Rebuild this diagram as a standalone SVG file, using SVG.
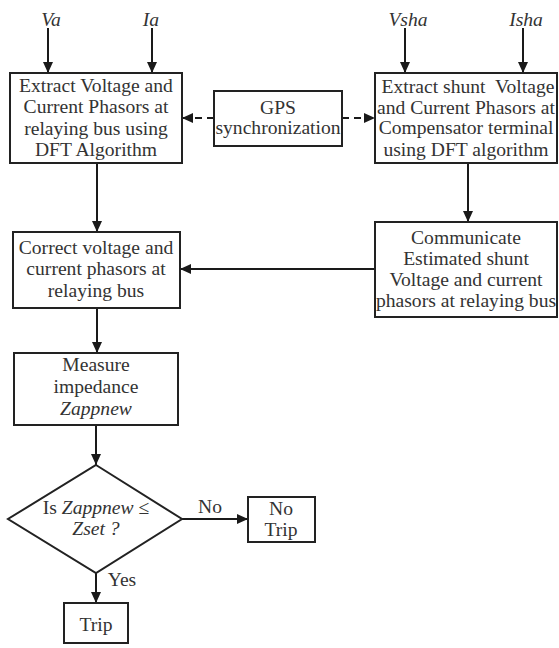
<svg xmlns="http://www.w3.org/2000/svg" width="559" height="648" viewBox="0 0 559 648">
<defs>
<marker id="ah" markerUnits="userSpaceOnUse" markerWidth="12" markerHeight="12" viewBox="0 0 12 12" refX="11" refY="6" orient="auto">
<path d="M0,1 L11,6 L0,11 Z" fill="#1a1a1a"/>
</marker>
<style>
.box{fill:#fff;stroke:#222;stroke-width:2}
.t{font-family:"Liberation Serif","Times New Roman",serif;font-size:19.6px;fill:#333;text-anchor:middle;white-space:pre}
.i{font-style:italic}
.c{stroke:#1a1a1a;stroke-width:2;fill:none;marker-end:url(#ah)}
.d{stroke-dasharray:7,5}
</style>
</defs>
<rect width="559" height="648" fill="#fff"/>
<g id="connectors">
<line class="c" x1="48" y1="28" x2="48" y2="73"/>
<line class="c" x1="152" y1="28" x2="152" y2="73"/>
<line class="c" x1="405" y1="28" x2="405" y2="73"/>
<line class="c" x1="523" y1="28" x2="523" y2="73"/>
<line class="c d" x1="214" y1="118" x2="182" y2="118"/>
<line class="c d" x1="342" y1="118" x2="375" y2="118"/>
<line class="c" x1="97" y1="163" x2="97" y2="232"/>
<line class="c" x1="468" y1="163" x2="468" y2="222"/>
<line class="c" x1="375" y1="269" x2="180" y2="269"/>
<line class="c" x1="97" y1="308" x2="97" y2="353"/>
<line class="c" x1="96" y1="425" x2="96" y2="465"/>
<line class="c" x1="182" y1="519" x2="248" y2="519"/>
<line class="c" x1="96" y1="573" x2="96" y2="603"/>
<text class="t" x="210" y="513">No</text>
<text class="t" x="122" y="586">Yes</text>
</g>
<g id="inputs">
<text class="t i" x="51" y="26">Va</text>
<text class="t i" x="151" y="26">Ia</text>
<text class="t i" x="408" y="26">Vsha</text>
<text class="t i" x="526" y="26">Isha</text>
</g>
<g id="extract">
<rect class="box" x="10" y="73" width="172" height="90"/>
<text class="t" x="96" y="92">Extract Voltage and</text>
<text class="t" x="96" y="113">Current Phasors at</text>
<text class="t" x="96" y="135">relaying bus using</text>
<text class="t" x="96" y="156">DFT Algorithm</text>
</g>
<g id="gps">
<rect class="box" x="214" y="91" width="128" height="55"/>
<text class="t" x="278" y="114">GPS</text>
<text class="t" x="278" y="134">synchronization</text>
</g>
<g id="extract-shunt">
<rect class="box" x="375" y="73" width="182" height="90"/>
<text class="t" x="468" y="93" xml:space="preserve">Extract shunt  Voltage</text>
<text class="t" x="466" y="114">and Current Phasors at</text>
<text class="t" x="466" y="134">Compensator terminal</text>
<text class="t" x="466" y="156">using DFT algorithm</text>
</g>
<g id="correct">
<rect class="box" x="13" y="232" width="167" height="76"/>
<text class="t" x="96" y="254">Correct voltage and</text>
<text class="t" x="96" y="275">current phasors at</text>
<text class="t" x="96" y="297">relaying bus</text>
</g>
<g id="communicate">
<rect class="box" x="375" y="222" width="182" height="95"/>
<text class="t" x="466" y="244">Communicate</text>
<text class="t" x="466" y="265">Estimated shunt</text>
<text class="t" x="466" y="286">Voltage and current</text>
<text class="t" x="466" y="307">phasors at relaying bus</text>
</g>
<g id="measure">
<rect class="box" x="14" y="353" width="164" height="72"/>
<text class="t" x="96" y="371">Measure</text>
<text class="t" x="96" y="393">impedance</text>
<text class="t i" x="96" y="415">Zappnew</text>
</g>
<g id="decision">
<polygon class="box" points="96,465 182,519 96,573 8,519"/>
<text class="t" x="96" y="514">Is <tspan class="i">Zappnew</tspan> ≤</text>
<text class="t i" x="96" y="535">Zset ?</text>
</g>
<g id="no-trip">
<rect class="box" x="248" y="497" width="67" height="45"/>
<text class="t" x="281" y="515">No</text>
<text class="t" x="281" y="536">Trip</text>
</g>
<g id="trip">
<rect class="box" x="64" y="603" width="64" height="40"/>
<text class="t" x="96" y="631">Trip</text>
</g>
</svg>
